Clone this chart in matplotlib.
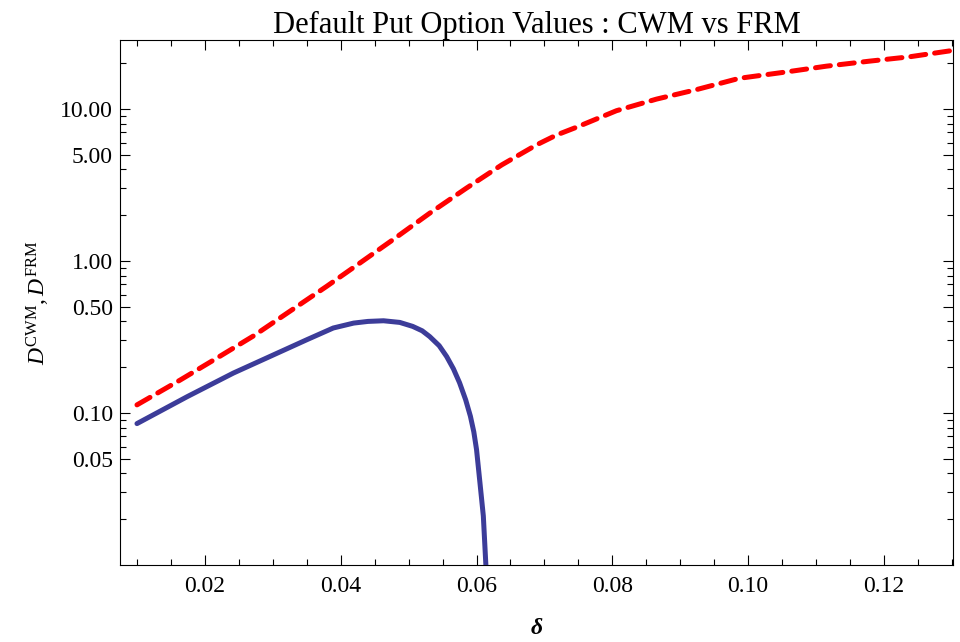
import numpy as np
import matplotlib
matplotlib.use("Agg")
import matplotlib.pyplot as plt
from matplotlib.ticker import FixedLocator, FormatStrFormatter, NullFormatter

# values
delta_frm = [0.0100, 0.0164, 0.0218, 0.0272, 0.0325, 0.0379, 0.0428, 0.0477,
             0.0531, 0.0585, 0.0637, 0.0688, 0.0718, 0.0747, 0.0806, 0.0865,
             0.0924, 0.0987, 0.1056, 0.1115, 0.1178, 0.1237, 0.1300]
d_frm = [0.113, 0.165, 0.230, 0.322, 0.466, 0.679, 0.967, 1.38,
         2.06, 3.01, 4.28, 5.79, 6.74, 7.57, 9.73, 11.6,
         13.4, 15.9, 17.5, 19.1, 20.6, 22.0, 24.2]

delta_cwm = [0.0100, 0.0174, 0.0242, 0.0291, 0.0350, 0.0389, 0.0419, 0.0440,
             0.0463, 0.0487, 0.0506, 0.0520, 0.0531, 0.0545, 0.0556, 0.0566,
             0.0575, 0.0584, 0.0591, 0.0596, 0.0600, 0.0605, 0.0610, 0.0614]
d_cwm = [0.0851, 0.128, 0.183, 0.230, 0.303, 0.362, 0.390, 0.400,
         0.404, 0.394, 0.371, 0.347, 0.318, 0.277, 0.235, 0.195,
         0.158, 0.122, 0.095, 0.075, 0.0574, 0.0348, 0.021, 0.0095]

title = "Default Put Option Values : CWM vs FRM"
y_major = [0.05, 0.1, 0.5, 1, 5, 10]
y_minor = [0.02, 0.03, 0.04, 0.06, 0.07, 0.08, 0.09, 0.2, 0.3, 0.4, 0.6, 0.7,
           0.8, 0.9, 2, 3, 4, 6, 7, 8, 9, 20]
x_major = [0.02, 0.04, 0.06, 0.08, 0.10, 0.12]

plt.rcParams["font.family"] = "Liberation Serif"
plt.rcParams["mathtext.fontset"] = "custom"
plt.rcParams["mathtext.rm"] = "Liberation Serif"
plt.rcParams["mathtext.it"] = "Liberation Serif:italic"

fig = plt.figure(figsize=(9.6, 6.42), dpi=100)
ax = fig.add_axes([0.125, 0.12, 0.868, 0.8177])

ax.plot(delta_frm, d_frm, color="#ff0000", lw=3.6, dashes=(3.0, 1.8),
        dash_capstyle="round", zorder=3)
ax.plot(delta_cwm, d_cwm, color="#3c3c99", lw=3.6, solid_capstyle="round",
        solid_joinstyle="round", zorder=3)

ax.set_yscale("log")
ax.set_xlim(0.0075, 0.1302)
ax.set_ylim(0.01, 28.4)

ax.yaxis.set_major_locator(FixedLocator(y_major))
ax.yaxis.set_minor_locator(FixedLocator(y_minor))
ax.yaxis.set_major_formatter(FormatStrFormatter("%.2f"))
ax.yaxis.set_minor_formatter(NullFormatter())
ax.xaxis.set_major_locator(FixedLocator(x_major))
ax.xaxis.set_minor_locator(FixedLocator(np.arange(0.01, 0.1301, 0.005)))
ax.xaxis.set_major_formatter(FormatStrFormatter("%.2f"))

ax.tick_params(which="both", direction="in", top=True, right=True,
               labelsize=17, width=0.8, colors="black")
ax.tick_params(which="major", length=7.5)
ax.tick_params(which="minor", length=4)
ax.tick_params(axis="x", which="major", pad=8)
ax.tick_params(axis="y", which="major", pad=5)
for s in ax.spines.values():
    s.set_linewidth(0.8)

ax.set_title(title, fontsize=22, pad=3)
ax.set_ylabel(r"$D^{\mathrm{CWM}}, D^{\mathrm{FRM}}$", fontsize=17, labelpad=6)
ax.set_xlabel("δ", fontsize=17, fontstyle="italic", fontweight="bold",
              labelpad=15)

fig.savefig("out.png", dpi=100)
